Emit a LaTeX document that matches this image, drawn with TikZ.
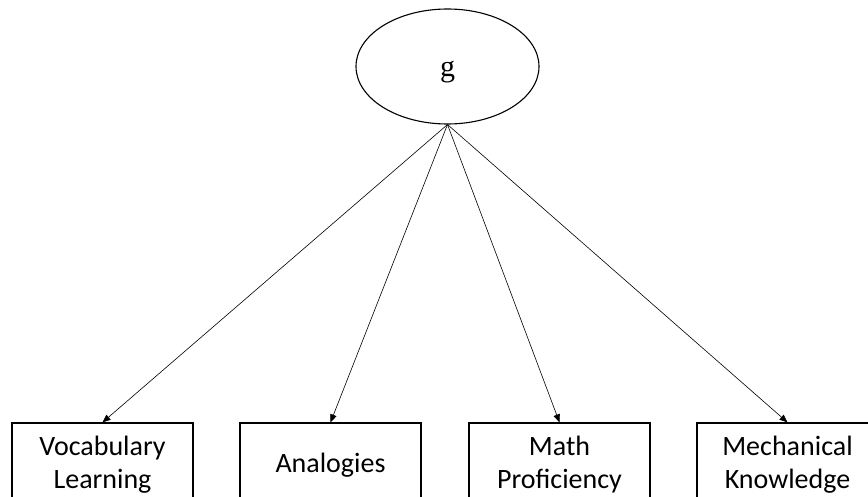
\documentclass[tikz,border=0pt]{standalone}
\usepackage{fontspec}
\setmainfont{Carlito}
\newfontfamily\factorfont{Liberation Serif}
\usetikzlibrary{arrows.meta,shapes.geometric}
\begin{document}
\begin{tikzpicture}[x=1pt,y=-1pt,
  factor/.style={draw, line width=1.1pt, ellipse, minimum width=183pt, minimum height=115pt, inner sep=0pt},
  factorname/.style={font=\factorfont\fontsize{30}{33}\selectfont, yshift=-6pt},
  measure/.style={draw, line width=1.2pt, rectangle, minimum width=181pt, minimum height=84pt, inner sep=0pt,
    align=center, font=\fontsize{28}{33}\selectfont},
  load/.style={line width=0.6pt, -{Triangle[length=8pt,width=6.5pt]}}]
  \useasboundingbox (0,0) rectangle (868,497);
  \clip (0,0) rectangle (868,497);
  \fill[white] (0,0) rectangle (868,497);
  % latent factor
  \node[factor, label={[factorname]center:g}] (g) at (447.5,66.5) {};
  % observed measures (boxes run past the lower edge)
  \node[measure] (voc)  at (102.5,465) {Vocabulary\\Learning};
  \node[measure] (ana)  at (330.5,465) {Analogies};
  \node[measure] (math) at (559.5,465) {Math\\Proficiency};
  \node[measure] (mech) at (787.5,465) {Mechanical\\Knowledge};
  % factor loadings
  \foreach \m in {voc,ana,math,mech}
    \draw[load] (g.south) -- (\m.north);
\end{tikzpicture}
\end{document}
